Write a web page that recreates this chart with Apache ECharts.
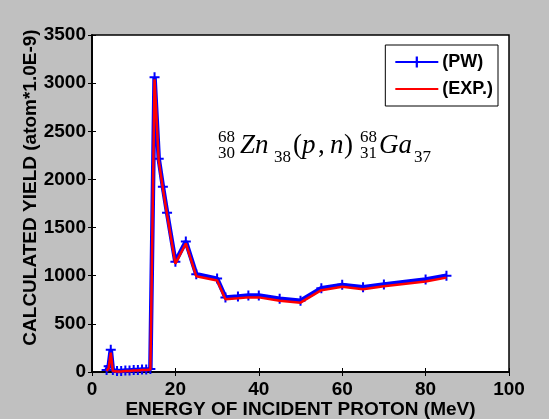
<!DOCTYPE html>
<html>
<head>
<meta charset="utf-8">
<script src="https://cdn.jsdelivr.net/npm/echarts@6/dist/echarts.min.js"></script>
<style>
html,body{margin:0;padding:0;background:#c0c0c0;}
#chart{width:549px;height:419px;}
</style>
</head>
<body>
<div id="chart"></div>
<script>
const energy = [3.5,4,4.5,5,6,7,8,9,10,11,12,13,14,15,16,17,18,20,22.5,25,30,32,35,37.5,40,45,50,55,60,65,70,80,85];
const pwYield = [20,60,230,20,10,10,15,15,20,20,25,25,30,3060,2215,1925,1655,1145,1355,1015,970,775,785,795,795,760,740,870,905,880,910,960,1000];
const expYield = [10,40,200,10,5,5,10,10,15,15,20,20,25,3040,2195,1905,1635,1125,1335,995,950,755,765,775,775,740,720,850,885,860,890,940,980];
const xTicks = [0,20,40,60,80,100];
const yTicks = [0,500,1000,1500,2000,2500,3000,3500];

const pwData = energy.map((e,i)=>[e,pwYield[i]]);
const expData = energy.map((e,i)=>[e,expYield[i]]);

const plus = 'path://M4,0 L6,0 L6,4 L10,4 L10,6 L6,6 L6,10 L4,10 L4,6 L0,6 L0,4 L4,4 Z';
const bold = {fontFamily:'Liberation Sans, Arial, sans-serif', fontWeight:'bold', color:'#000'};
const serif = 'Liberation Serif, Times New Roman, serif';

const chart = echarts.init(document.getElementById('chart'), null, {renderer:'canvas'});
const axisCommon = {
  axisLine:{show:true, lineStyle:{color:'#000', width:1.5}},
  axisTick:{show:true, inside:true, length:4, lineStyle:{color:'#000'}},
  splitLine:{show:false}
};
function t(text, x, y, size, italic){
  return {type:'text', x:x, y:y, z:100,
    style:{text:text, font:(italic?'italic ':'')+size+'px '+serif, fill:'#000', verticalAlign:'middle', align:'left'}};
}
chart.setOption({
  backgroundColor:'#c0c0c0',
  animation:false,
  grid:{left:92, right:40, top:35, bottom:47, show:true, backgroundColor:'#fff', borderColor:'#000', borderWidth:1.5,
    containLabel:false, outerBoundsMode:'none'},
  legend:{
    show:true, right:51, top:45, orient:'vertical',
    backgroundColor:'#fff', borderColor:'#000', borderWidth:1, borderRadius:0,
    padding:[8,5,8,9], itemGap:9, itemWidth:43, itemHeight:14,
    textStyle:Object.assign({fontSize:18, padding:[0,0,0,-1]}, bold),
    data:[{name:'(PW)'},{name:'(EXP.)', itemStyle:{opacity:0}}]
  },
  xAxis:[
    Object.assign({type:'value', min:0, max:100, interval:20, position:'bottom',
      name:'ENERGY OF INCIDENT PROTON (MeV)', nameLocation:'middle', nameGap:28, nameMoveOverlap:false,
      nameTextStyle:Object.assign({fontSize:19}, bold),
      axisLabel:Object.assign({fontSize:19, margin:8, formatter:v=>xTicks.includes(v)?String(v):''}, bold)}, axisCommon),
    Object.assign({type:'value', min:0, max:100, interval:20, position:'top', axisLabel:{show:false}}, axisCommon)
  ],
  yAxis:[
    Object.assign({type:'value', min:0, max:3500, interval:500, position:'left',
      name:'CALCULATED YIELD (atom*1.0E-9)', nameLocation:'middle', nameGap:52, nameMoveOverlap:false,
      nameTextStyle:Object.assign({fontSize:19, padding:[0,0,0,32]}, bold),
      axisLabel:Object.assign({fontSize:19, margin:6, formatter:v=>yTicks.includes(v)?String(v):''}, bold)}, axisCommon),
    Object.assign({type:'value', min:0, max:3500, interval:500, position:'right', axisLabel:{show:false}}, axisCommon)
  ],
  series:[
    {name:'(PW)', type:'line', data:pwData, symbol:plus, symbolSize:10, showSymbol:true,
      itemStyle:{color:'#0000ff'}, lineStyle:{color:'#0000ff', width:4.5}, z:2},
    {name:'(EXP.)', type:'line', data:expData, symbol:'circle', symbolSize:0, showSymbol:false,
      itemStyle:{color:'#ff0000'}, lineStyle:{color:'#ff0000', width:2.5}, z:3}
  ],
  graphic:[
    t('68', 218, 138, 17), t('30', 218, 154, 17),
    t('Zn', 240, 146, 27, true), t('38', 274, 158, 17),
    t('(', 293, 146, 27), t('p', 302, 146, 27, true), t(',', 318, 146, 27),
    t('n', 330, 146, 27, true), t(')', 344, 146, 27),
    t('68', 360, 138, 17), t('31', 360, 154, 17),
    t('Ga', 379, 146, 27, true), t('37', 414, 158, 17)
  ]
});
</script>
</body>
</html>
